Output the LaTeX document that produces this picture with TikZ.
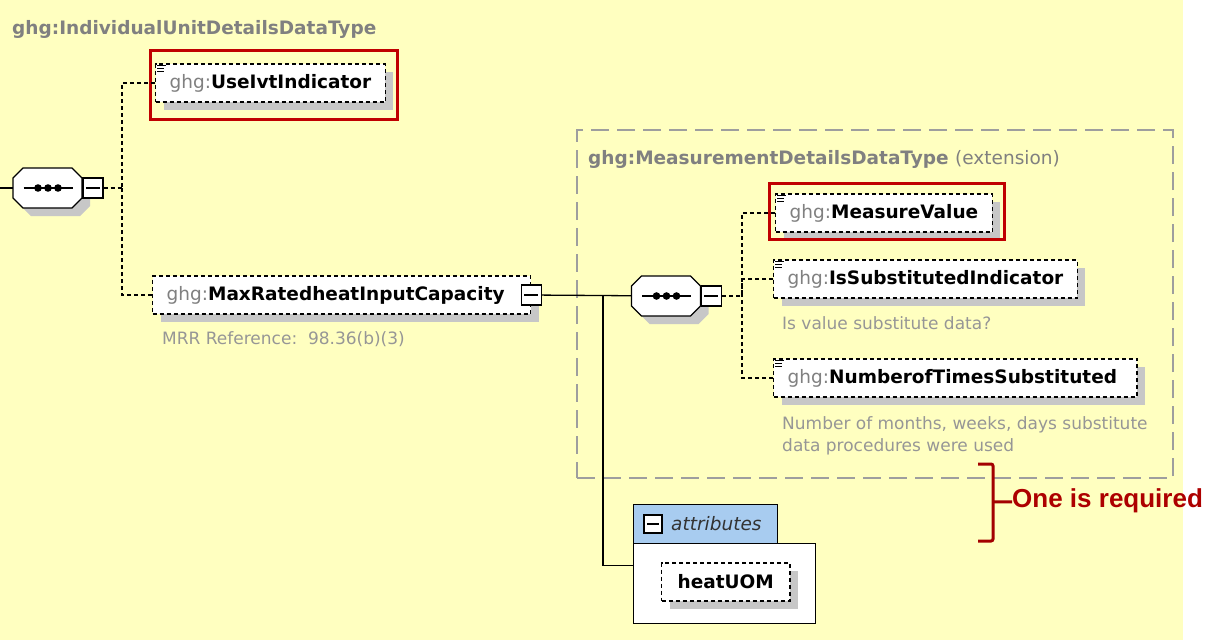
\documentclass[tikz,border=0pt]{standalone}
\usepackage{fontspec}
\setmainfont{DejaVu Sans}
\newfontfamily\notefont{Liberation Sans}
\usetikzlibrary{positioning,shadows}

\definecolor{xsdyellow}{RGB}{255,255,192}
\definecolor{xsdgray}{RGB}{128,128,128}
\definecolor{xsdnote}{RGB}{150,150,150}
\definecolor{xsdred}{RGB}{192,0,0}
\definecolor{xsdblue}{RGB}{168,204,240}

\newcommand{\ghg}[1]{{\color{xsdgray}\mdseries ghg:}\textbf{#1}}
\newcommand{\listicon}[1]{\foreach \dy/\len in {0/9,3/7,6/7}
  \draw[line width=0.9pt] ([shift={(2,2+\dy)}]#1.north west) -- ++(\len,0);}
% octagon of a sequence compositor, drawn round node #1
\newcommand{\drawseq}[1]{%
  \fill[black!22,shift={(#1.center)},shift={(8,8)}] (-34.5,-10) -- (-24.5,-20) -- (24.5,-20)
    -- (34.5,-10) -- (34.5,10) -- (24.5,20) -- (-24.5,20) -- (-34.5,10) -- cycle;
  \filldraw[fill=white,line width=1.3pt,shift={(#1.center)}] (-34.5,-10) -- (-24.5,-20)
    -- (24.5,-20) -- (34.5,-10) -- (34.5,10) -- (24.5,20) -- (-24.5,20) -- (-34.5,10) -- cycle;
  \draw[line width=1.3pt,shift={(#1.center)}] (-24,0) -- (25,0);
  \foreach \dx in {-9.5,0.5,10.5} \fill[shift={(#1.center)}] (\dx,0) circle (3.8pt);}

\begin{document}
\begin{tikzpicture}[x=1pt,y=-1pt,line join=miter,
  shade/.style={general shadow={shadow xshift=8pt,shadow yshift=-8pt,fill=black!22}},
  elem/.style={draw,dash pattern=on 4pt off 3pt,line width=1.3pt,fill=white,shade,
    minimum height=38pt,inner xsep=14pt,anchor=west,font=\fontsize{18.5}{22}\selectfont},
  seq/.style={minimum width=69pt,minimum height=40pt,inner sep=0pt},
  minus/.style={draw,fill=white,line width=1.3pt,minimum size=20pt,inner sep=0pt,anchor=west,
    path picture={\draw[line width=1.3pt] ([xshift=3pt]path picture bounding box.west)
      -- ([xshift=-3pt]path picture bounding box.east);}},
  note/.style={anchor=base west,text=xsdnote,inner sep=0pt,align=left,
    font=\fontsize{17}{22}\selectfont},
  head/.style={anchor=base west,text=xsdgray,inner sep=0pt,font=\fontsize{18.5}{22}\selectfont\bfseries},
  conn/.style={dash pattern=on 4pt off 3pt,line width=1.3pt},
  link/.style={line width=1.3pt},
  hilite/.style={draw=xsdred,line width=3pt},
  brace/.style={draw=xsdred!85!black,line width=3pt,rounded corners=2pt}]

\useasboundingbox (0,0) rectangle (1215,640);
\fill[xsdyellow] (0,0) rectangle (1183,640);

\node[head] (title) at (12,34) {ghg:IndividualUnitDetailsDataType};

% outer sequence
\coordinate (inlet) at (0,188);
\node[seq] (seqa) at (47.5,188) {};
\drawseq{seqa}
\node[minus] (minusa) at (seqa.east) {};
\coordinate (forka) at (122,188);

\node[elem] (useivt) at (155,83) {\ghg{UseIvtIndicator}};
\listicon{useivt}
\draw[hilite] ([shift={(-5,-13)}]useivt.north west) rectangle ([shift={(12,17)}]useivt.south east);

\node[elem] (maxrated) at (152,295) {\ghg{MaxRatedheatInputCapacity}\kern12pt};
\node[minus,anchor=center] (minusm) at (maxrated.east) {};
\node[note] (mrr) at (162,344) {MRR Reference:\ \ 98.36(b)(3)};

\draw[link] (inlet) -- (seqa);
\draw[conn] (minusa) -- (forka);
\draw[conn] (useivt.west) -| (forka);
\draw[conn] (maxrated.west) -| (forka);

% extension
\node[draw=black!38,dash pattern=on 18pt off 8pt,line width=2pt,minimum width=596pt,
  minimum height=348pt] (ext) at (875,304) {};
\node[head] (exttitle) at (588,164) {ghg:MeasurementDetailsDataType \mdseries(extension)};

\node[seq] (seqb) at (666,296) {};
\drawseq{seqb}
\node[minus] (minusb) at (seqb.east) {};
\coordinate (forkb) at (742,296);
\coordinate (forkc) at (603,295);

\node[elem] (measval) at (775,213) {\ghg{MeasureValue}};
\listicon{measval}
\draw[hilite] ([shift={(-6,-10)}]measval.north west) rectangle ([shift={(12,7)}]measval.south east);

\node[elem] (issubst) at (773,279) {\ghg{IsSubstitutedIndicator}};
\listicon{issubst}
\node[note] (issubstnote) at (782,329) {Is value substitute data?};

\node[elem] (numsubst) at (773,378) {\ghg{NumberofTimesSubstituted}\kern6pt};
\listicon{numsubst}
\node[note] (numsubstnote) at (782,451) {Number of months, weeks, days substitute\\data procedures were used};

\draw[link] (minusm) -- (seqb);
\draw[conn] (minusb) -- (forkb);
\draw[conn] (measval.west) -| (forkb);
\draw[conn] (issubst.west) -| (forkb);
\draw[conn] (numsubst.west) -| (forkb);

% attributes
\node[draw,fill=white,line width=1.3pt,anchor=north west,minimum width=182pt,
  minimum height=80pt] (attrbody) at (633,543) {};
\node[draw,fill=xsdblue,line width=1.3pt,anchor=north west,minimum width=144pt,
  minimum height=39pt] (attrhead) at (633,504) {};
\node[minus,anchor=center,minimum size=18pt] (minush) at (653,524) {};
\node[anchor=west,inner sep=0pt,text=black!80,font=\fontsize{18.5}{22}\selectfont\itshape]
  (attrtext) at (671,524) {attributes};
\node[elem,inner xsep=16pt] (heatuom) at (661,582) {\textbf{heatUOM}};
\draw[link] ([yshift=18pt]attrbody.west) -| (forkc);

% one is required
\coordinate (bracetip) at (993,502);
\node[anchor=west,inner sep=0pt,text=xsdred!90!black,font=\notefont\fontsize{26}{30}\selectfont\bfseries]
  (req) at (1012,501) {One is required};
\draw[brace] (978,464) -- (993,464) -- (993,541) -- (978,541);
\draw[brace] (bracetip) -- (req);

\end{tikzpicture}
\end{document}
